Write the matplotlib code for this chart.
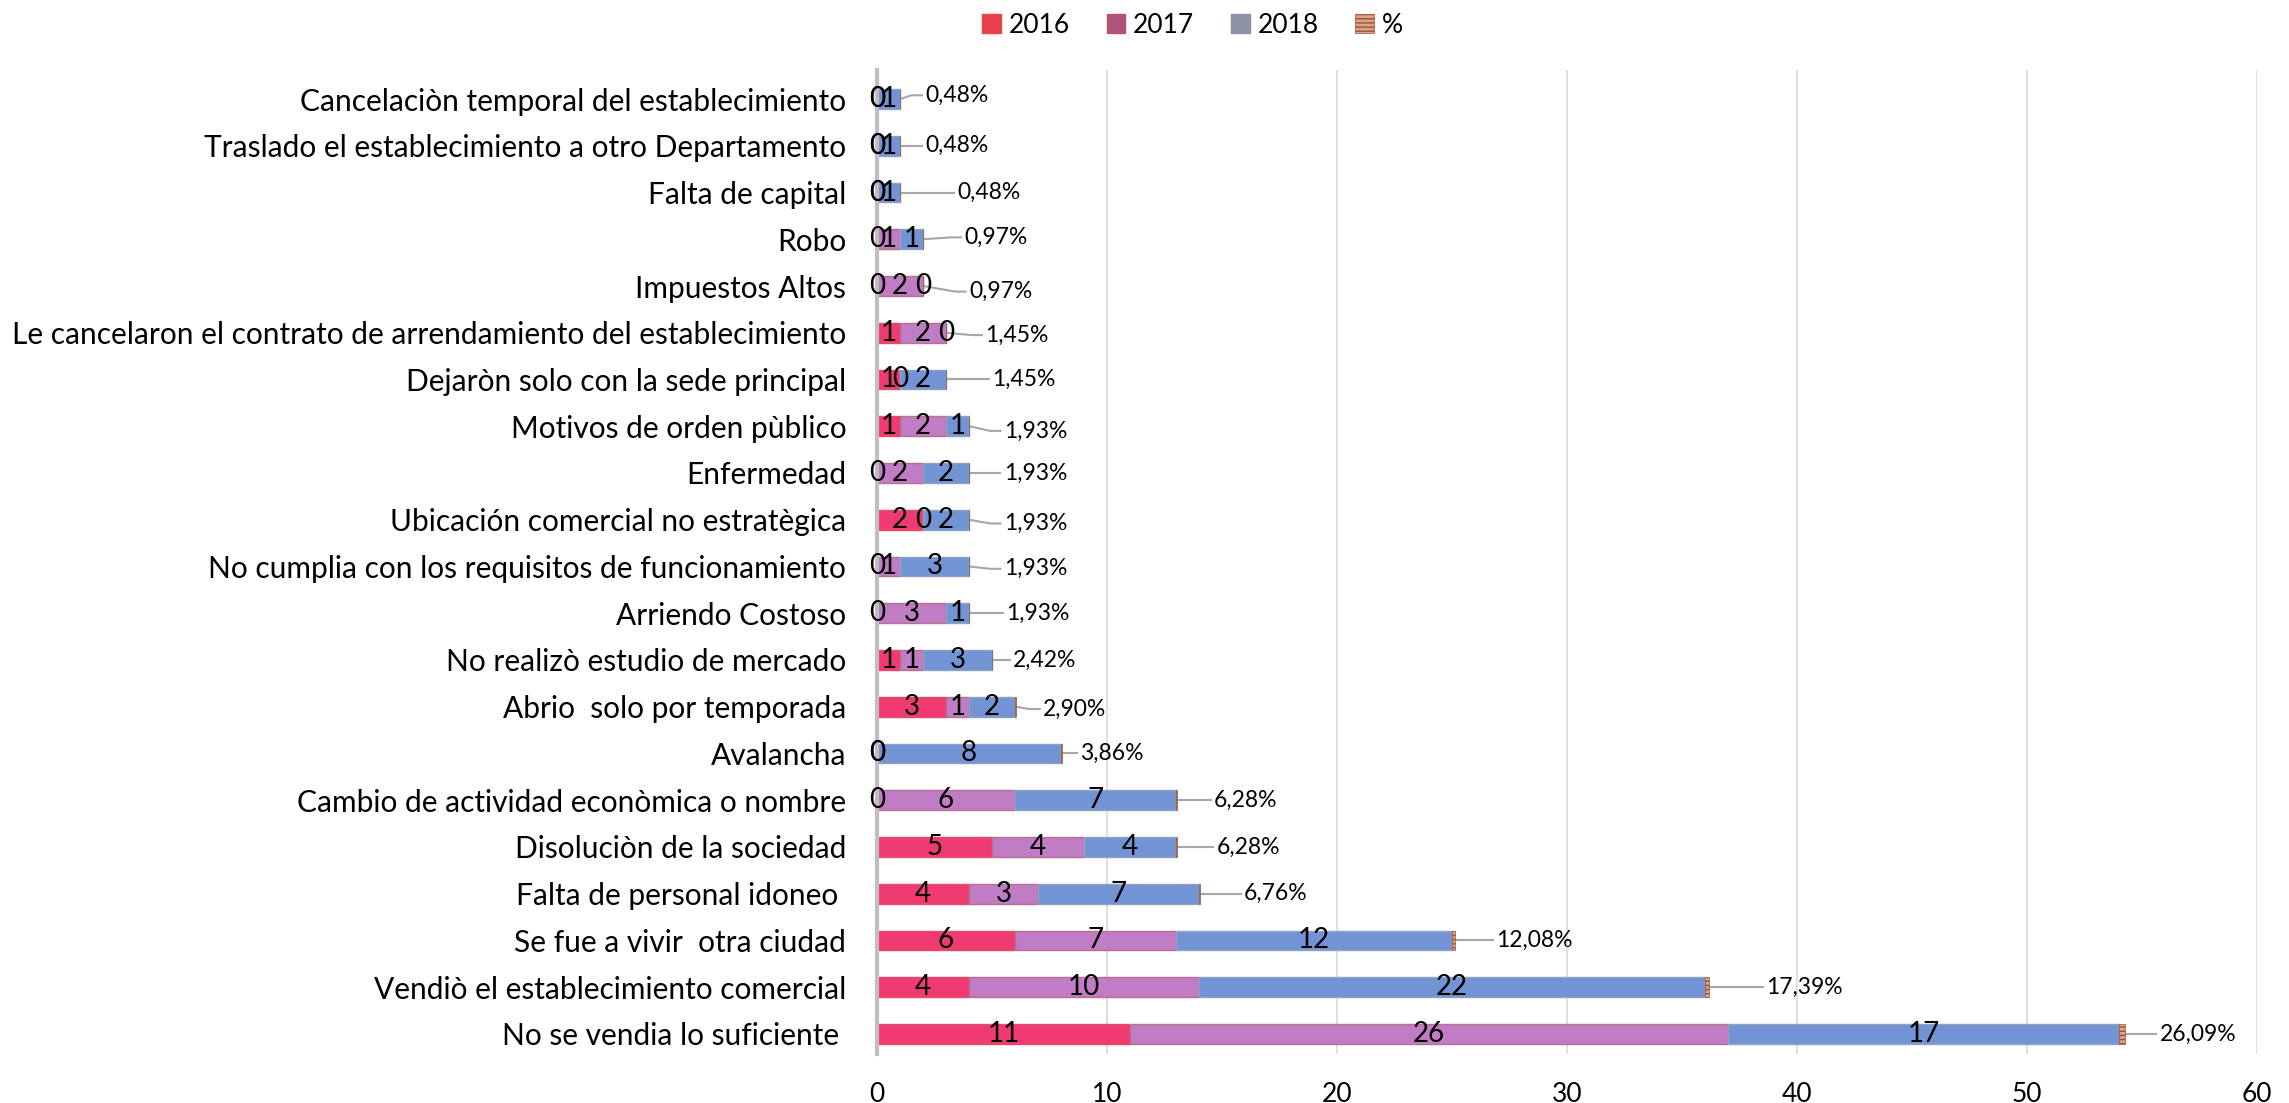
import matplotlib
matplotlib.use("Agg")
import matplotlib.pyplot as plt
from matplotlib.patches import Patch
import numpy as np

plt.rcParams['font.family'] = ['Lato', 'DejaVu Sans']

categories = [
    "Cancelaciòn temporal del establecimiento",
    "Traslado el establecimiento a otro Departamento",
    "Falta de capital",
    "Robo",
    "Impuestos Altos",
    "Le cancelaron el contrato de arrendamiento del establecimiento",
    "Dejaròn solo con la sede principal",
    "Motivos de orden pùblico",
    "Enfermedad",
    "Ubicación comercial no estratègica",
    "No cumplia con los requisitos de funcionamiento",
    "Arriendo Costoso",
    "No realizò estudio de mercado",
    "Abrio  solo por temporada",
    "Avalancha",
    "Cambio de actividad econòmica o nombre",
    "Disoluciòn de la sociedad",
    "Falta de personal idoneo ",
    "Se fue a vivir  otra ciudad",
    "Vendiò el establecimiento comercial",
    "No se vendia lo suficiente ",
]
v2016 = [0, 0, 0, 0, 0, 1, 1, 1, 0, 2, 0, 0, 1, 3, 0, 0, 5, 4, 6, 4, 11]
v2017 = [0, 0, 0, 1, 2, 2, 0, 2, 2, 0, 1, 3, 1, 1, 0, 6, 4, 3, 7, 10, 26]
v2018 = [1, 1, 1, 1, 0, 0, 2, 1, 2, 2, 3, 1, 3, 2, 8, 7, 4, 7, 12, 22, 17]
pct = [0.0048, 0.0048, 0.0048, 0.0097, 0.0097, 0.0145, 0.0145, 0.0193, 0.0193,
       0.0193, 0.0193, 0.0193, 0.0242, 0.0290, 0.0386, 0.0628, 0.0628, 0.0676,
       0.1208, 0.1739, 0.2609]
pct_labels = ["0,48%", "0,48%", "0,48%", "0,97%", "0,97%", "1,45%", "1,45%",
              "1,93%", "1,93%", "1,93%", "1,93%", "1,93%", "2,42%", "2,90%",
              "3,86%", "6,28%", "6,28%", "6,76%", "12,08%", "17,39%", "26,09%"]
# horizontal gap (in data units) from bar end to the moved % label
label_gap = [1.1, 1.1, 2.5, 1.8, 2.0, 1.7, 2.0, 1.5, 1.5, 1.5, 1.5, 1.6, 0.9, 1.2,
             0.8, 1.6, 1.7, 1.9, 1.8, 2.5, 1.5]
# small vertical shift (in category units, positive = up) of the moved % label
label_dy = [0.08, 0, 0, 0.04, -0.12, -0.05, 0, -0.1, 0, -0.08, -0.05, 0, 0, -0.05,
            0, 0, 0, 0, 0, 0, 0]

# reverse so first category is at top
cats = categories[::-1]
a = np.array(v2016[::-1], float)
b = np.array(v2017[::-1], float)
c = np.array(v2018[::-1], float)
p = np.array(pct[::-1], float)
pl = pct_labels[::-1]
gaps = label_gap[::-1]
dys = label_dy[::-1]
y = np.arange(len(cats))

fig = plt.figure(figsize=(22.89, 11.03), dpi=100)
ax = fig.add_axes([0.3831, 0.0444, 0.6029, 0.8921])

h = 0.42
col16, col17, col18 = "#ef3a72", "#c07cc4", "#7394d4"
ax.barh(y, a, height=h, color=col16, edgecolor="#e0506a", linewidth=1, zorder=3)
ax.barh(y, b, left=a, height=h, color=col17, edgecolor="#b8708f", linewidth=1, zorder=3)
ax.barh(y, c, left=a + b, height=h, color=col18, edgecolor="#8fa2c0", linewidth=1, zorder=3)
ax.barh(y, p, left=a + b + c, height=h, color="#d9a48c", edgecolor="#a0522d",
        hatch="----", linewidth=0.5, zorder=3)

fs_val = 20
for i in range(len(cats)):
    ax.text(a[i] / 2, y[i], f"{int(a[i])}", ha="center", va="center", fontsize=fs_val, zorder=5)
    ax.text(a[i] + b[i] / 2, y[i], f"{int(b[i])}", ha="center", va="center", fontsize=fs_val, zorder=5)
    ax.text(a[i] + b[i] + c[i] / 2, y[i], f"{int(c[i])}", ha="center", va="center", fontsize=fs_val, zorder=5)
    end = a[i] + b[i] + c[i] + p[i]
    lx = end + gaps[i]
    ly = y[i] + dys[i]
    ax.plot([end, lx - 0.6, lx - 0.15], [y[i], ly, ly], color="#a6a6a6", lw=1.5, zorder=2)
    ax.text(lx, ly, pl[i], ha="left", va="center", fontsize=16.5, zorder=5)

ax.set_xlim(0, 60)
ax.set_ylim(-0.43, 20.62)
ax.set_xticks(np.arange(0, 61, 10))
ax.set_yticks(y)
ax.set_yticklabels(cats, fontsize=21.5)
ax.tick_params(axis="x", labelsize=19, length=0, pad=20)
ax.tick_params(axis="y", length=0, pad=22)
ax.grid(axis="x", color="#d9d9d9", lw=1.2, zorder=0)
for s in ["top", "right", "bottom"]:
    ax.spines[s].set_visible(False)
ax.spines["left"].set_color("#bfbfbf")
ax.spines["left"].set_linewidth(3)
ax.spines["left"].set_zorder(4)

handles = [
    Patch(facecolor="#e8404f", edgecolor="#e8404f"),
    Patch(facecolor="#b0527a", edgecolor="#b0527a"),
    Patch(facecolor="#8a93a6", edgecolor="#8a93a6"),
    Patch(facecolor="#d9a48c", edgecolor="#a0522d", hatch="----", linewidth=0.5),
]
fig.legend(handles, ["2016", "2017", "2018", "%"], loc="center",
           bbox_to_anchor=(0.521, 0.977), ncol=4, frameon=False, fontsize=19,
           handlelength=0.7, handleheight=0.7, handletextpad=0.3, columnspacing=1.4)

fig.savefig("out.png", dpi=100)
